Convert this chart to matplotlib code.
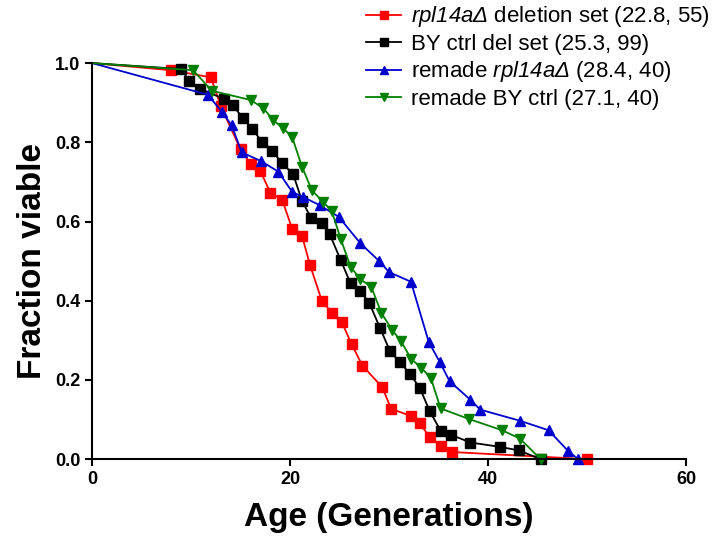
import matplotlib
matplotlib.use("Agg")
import matplotlib.pyplot as plt

plt.rcParams['font.family'] = ['Liberation Sans', 'DejaVu Sans']
plt.rcParams['mathtext.fontset'] = 'custom'
plt.rcParams['mathtext.it'] = 'Liberation Sans:italic'
plt.rcParams['mathtext.rm'] = 'Liberation Sans:italic'
plt.rcParams['mathtext.default'] = 'it'

# survival curves
red_x = [0, 8, 12, 13, 15, 16, 17, 18, 19.2, 20.2, 21.2, 22, 23.2, 24.2, 25.2,
         26.2, 27.3, 29.3, 30.2, 32.2, 33.1, 34.1, 35.2, 36.3, 50]
red_y = [1.0, 0.982, 0.964, 0.891, 0.782, 0.745, 0.727, 0.673, 0.655, 0.582,
         0.564, 0.491, 0.400, 0.370, 0.347, 0.291, 0.236, 0.182, 0.127, 0.109,
         0.091, 0.055, 0.033, 0.018, 0.0]

black_x = [0, 9, 9.8, 10.9, 13.3, 14.2, 15.2, 16.2, 17.2, 18.2, 19.2, 20.3,
           21.2, 22.1, 23.2, 24.0, 25.1, 26.1, 27.1, 28.0, 29.1, 30.1, 31.1,
           32.1, 33.1, 34.1, 35.2, 36.2, 38.2, 41.2, 43.1, 45.3]
black_y = [1.0, 0.985, 0.955, 0.935, 0.91, 0.894, 0.862, 0.833, 0.80, 0.778,
           0.747, 0.72, 0.652, 0.61, 0.595, 0.568, 0.503, 0.444, 0.425, 0.394,
           0.33, 0.272, 0.245, 0.215, 0.18, 0.121, 0.072, 0.062, 0.042, 0.031,
           0.022, 0.0]

blue_x = [0, 11.7, 13.1, 14.1, 15.1, 17.1, 18.8, 20.2, 21.3, 23.0, 24.9, 27.1,
          29.0, 30.0, 32.2, 34.0, 35.1, 36.1, 38.2, 39.2, 43.2, 46.1, 48.1, 49.1]
blue_y = [1.0, 0.92, 0.877, 0.843, 0.775, 0.752, 0.726, 0.675, 0.662, 0.641,
          0.612, 0.545, 0.50, 0.472, 0.448, 0.296, 0.246, 0.197, 0.15, 0.125,
          0.097, 0.073, 0.02, 0.0]

green_x = [0, 10.2, 12.1, 16.0, 17.3, 18.3, 19.3, 20.2, 21.2, 22.2, 23.3, 24.2,
           25.1, 26.1, 27.1, 28.2, 29.2, 30.3, 31.2, 32.2, 33.2, 34.2, 35.2,
           38.1, 41.4, 43.2, 45.3]
green_y = [1.0, 0.982, 0.93, 0.907, 0.886, 0.856, 0.835, 0.814, 0.738, 0.679,
           0.65, 0.627, 0.557, 0.486, 0.454, 0.435, 0.37, 0.326, 0.298, 0.254,
           0.231, 0.206, 0.128, 0.101, 0.073, 0.052, 0.0]

labels = [r'$rpl14a\Delta$ deletion set (22.8, 55)',
          'BY ctrl del set (25.3, 99)',
          r'remade $rpl14a\Delta$ (28.4, 40)',
          'remade BY ctrl (27.1, 40)']

fig = plt.figure(figsize=(7.14, 5.44), dpi=100)
ax = fig.add_axes([0.129, 0.156, 0.832, 0.728])

series = [(red_x, red_y, 'red', 's'),
          (black_x, black_y, 'black', 's'),
          (blue_x, blue_y, '#0000CC', '^'),
          (green_x, green_y, '#008000', 'v')]
for (xs, ys, col, mk), lab in zip(series, labels):
    ax.plot(xs, ys, color=col, marker=mk, markersize=7.5, linewidth=1.3,
            markevery=list(range(1, len(xs))), clip_on=False, label=lab)

ax.set_xlim(0, 60)
ax.set_ylim(0, 1.0)
ax.set_xticks([0, 20, 40, 60])
ax.set_yticks([0.0, 0.2, 0.4, 0.6, 0.8, 1.0])
ax.set_yticklabels(['0.0', '0.2', '0.4', '0.6', '0.8', '1.0'])
for s in ['top', 'right']:
    ax.spines[s].set_visible(False)
for s in ['left', 'bottom']:
    ax.spines[s].set_linewidth(1.5)
ax.tick_params(width=1.5, length=5, direction='out', labelsize=13)
for t in ax.get_xticklabels() + ax.get_yticklabels():
    t.set_fontweight('bold')

ax.set_xlabel('Age (Generations)', fontsize=24, fontweight='bold', labelpad=10)
ax.set_ylabel('Fraction viable', fontsize=24, fontweight='bold', labelpad=5)

fig.legend(loc='upper left', bbox_to_anchor=(0.506, 1.0), frameon=False,
           fontsize=16, handlelength=1.6, handletextpad=0.45, labelspacing=0.2,
           borderpad=0.2, borderaxespad=0, markerscale=0.85)

fig.savefig('out.png', dpi=100)
